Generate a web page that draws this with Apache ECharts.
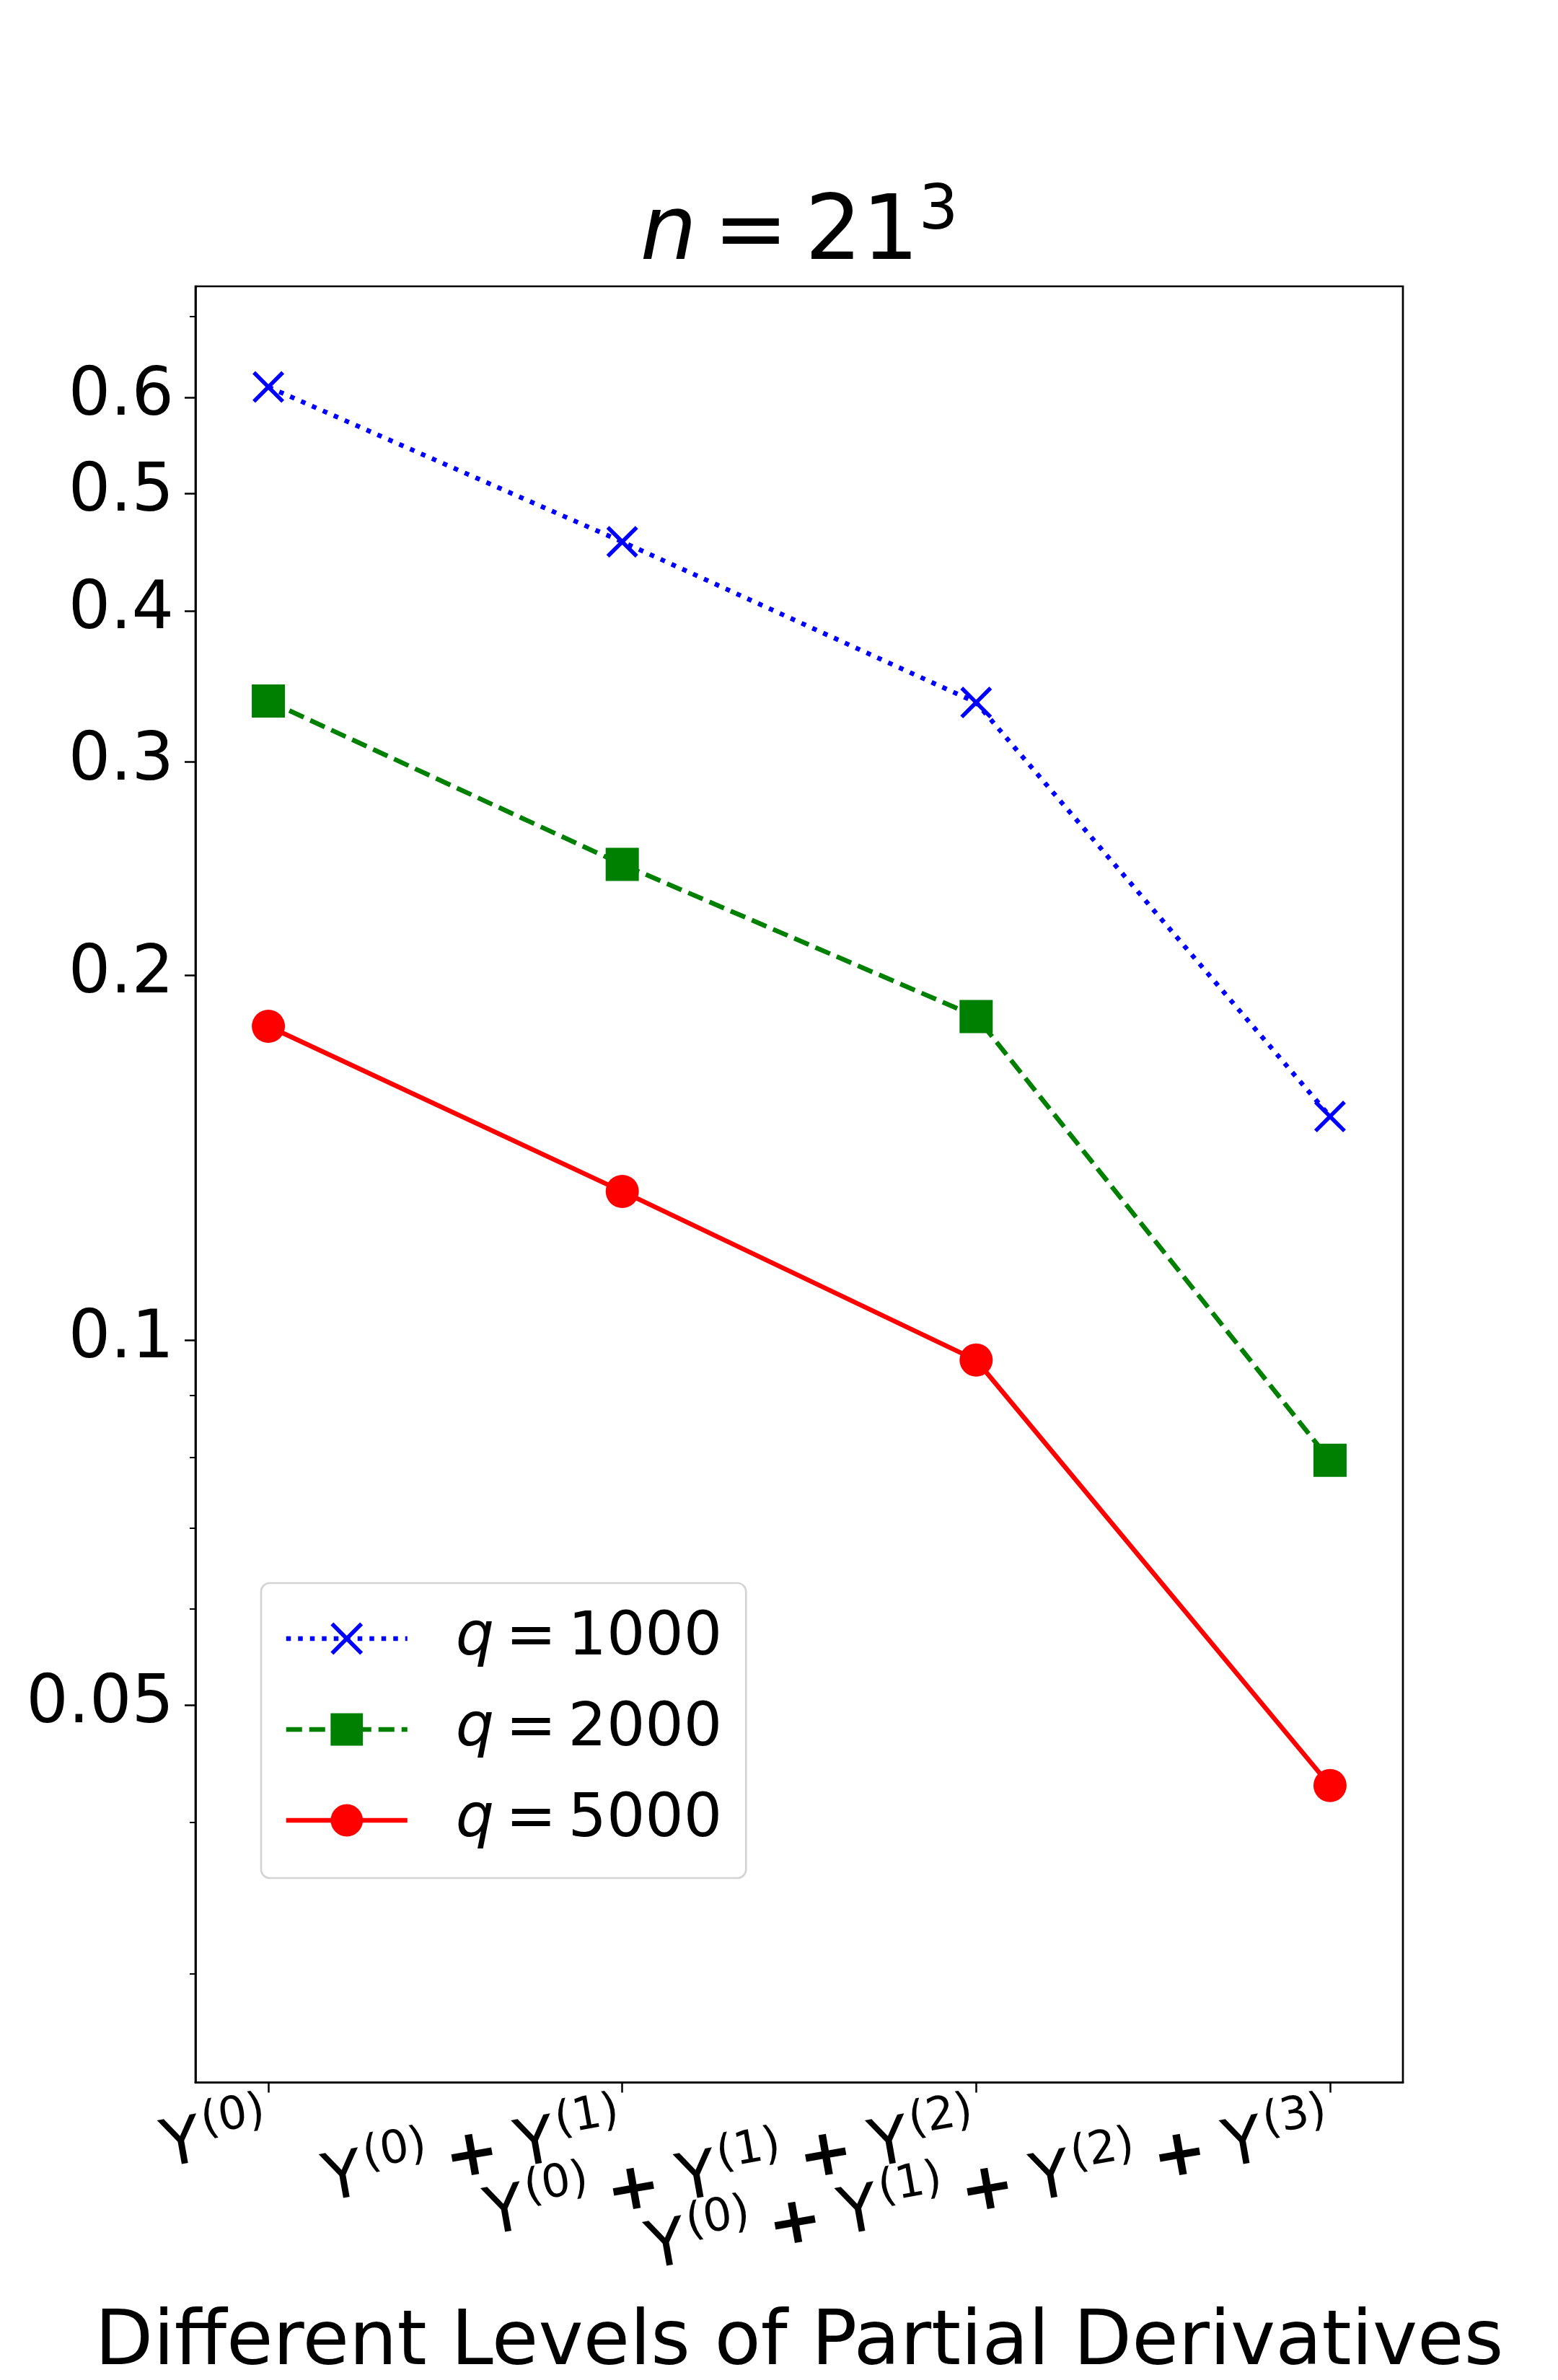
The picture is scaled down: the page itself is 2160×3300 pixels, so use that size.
<!DOCTYPE html>
<html>
<head>
<meta charset="utf-8">
<script src="https://cdn.jsdelivr.net/npm/echarts@6/dist/echarts.min.js"></script>
<style>
html,body{margin:0;padding:0;background:#fff;}
#chart{width:2160px;height:3300px;}
</style>
</head>
<body>
<div id="chart"></div>
<script>
// ---- data ----
const levels = ['Y(0)', 'Y(0) + Y(1)', 'Y(0) + Y(1) + Y(2)', 'Y(0) + Y(1) + Y(2) + Y(3)'];
const seriesNames = ['q = 1000', 'q = 2000', 'q = 5000'];
const q1000 = [0.612, 0.456, 0.336, 0.153];
const q2000 = [0.337, 0.247, 0.185, 0.0796];
const q5000 = [0.1816, 0.1327, 0.0963, 0.0429];
const yMajorTicks = [0.05, 0.1, 0.2, 0.3, 0.4, 0.5, 0.6];
const yMinorTicks = [0.03, 0.04, 0.06, 0.07, 0.08, 0.09, 0.7];
const yRange = [0.0244, 0.741];
const xRange = [-0.206, 3.206];
const titleParts = ['n', '=', '21', '3'];

// ---- helpers ----
const FONT = 'DejaVu Sans';
const lg = v => Math.log10(v);
const toPairs = arr => arr.map((v, i) => [i, lg(v)]);
function richLabel(s) {
  return s.split(/(\(\d\)| \+ )/).filter(t => t.length).map(t => {
    if (/^\(\d\)$/.test(t)) return '{s|' + t + '}';
    if (t === ' + ') return '{p|+}';
    return '{m|' + t + '}';
  }).join('');
}
function legendLabel(name) {
  const parts = name.split(' = ');
  return '{sp|}{i|' + parts[0] + '}{e|=}{d|' + parts[1] + '}';
}
const X_PATH = 'path://M0 8.84L8.84 0L50 41.16L91.16 0L100 8.84L58.84 50L100 91.16L91.16 100L50 58.84L8.84 100L0 91.16L41.16 50Z';

const labelRich = {
  m: {fontFamily: FONT, fontSize: 90, lineHeight: 120, color: '#000'},
  p: {fontFamily: FONT, fontSize: 90, fontWeight: 'bold', lineHeight: 120, padding: [0, 24, 0, 22], color: '#000'},
  s: {fontFamily: FONT, fontSize: 63, lineHeight: 66, verticalAlign: 'top', padding: [0, 0, 0, 5], color: '#000'}
};

// main x axis (line, ticks, name) + one overlay axis per tick label
const xAxes = [{
  type: 'value', min: xRange[0], max: xRange[1], position: 'bottom',
  name: 'Different Levels of Partial Derivatives',
  nameLocation: 'middle', nameGap: 311, nameMoveOverlap: false,
  nameTextStyle: {fontFamily: FONT, fontSize: 105, color: '#000', lineHeight: 105},
  axisLine: {show: true, onZero: false, lineStyle: {color: '#000', width: 2.7}},
  axisTick: {show: true, customValues: levels.map((_, i) => i), length: 14, lineStyle: {color: '#000', width: 2.5}},
  axisLabel: {show: false},
  splitLine: {show: false}
}];
levels.forEach((lab, i) => {
  xAxes.push({
    type: 'value', min: xRange[0], max: xRange[1], position: 'bottom',
    axisLine: {show: false, onZero: false},
    axisTick: {show: false},
    splitLine: {show: false},
    axisLabel: {
      show: true, customValues: [i], rotate: 10, margin: 68,
      showMinLabel: true, showMaxLabel: true,
      formatter: () => richLabel(lab),
      fontFamily: FONT, fontSize: 90, color: '#000',
      rich: labelRich
    }
  });
});

const chart = echarts.init(document.getElementById('chart'), null, {renderer: 'canvas'});
const option = {
  animation: false,
  backgroundColor: '#fff',
  title: {
    text: '{i|' + titleParts[0] + '}{e|' + titleParts[1] + '}{m|' + titleParts[2] + '}{s|' + titleParts[3] + '}',
    left: 1108, top: 252, textAlign: 'center', padding: 0,
    textStyle: {
      fontFamily: FONT, color: '#000', fontSize: 124, fontWeight: 'normal',
      rich: {
        i: {fontFamily: FONT, fontSize: 124, fontStyle: 'italic', fontWeight: 'normal', lineHeight: 150, color: '#000'},
        e: {fontFamily: FONT, fontSize: 124, fontWeight: 'normal', lineHeight: 150, padding: [0, 23, 0, 23], color: '#000'},
        m: {fontFamily: FONT, fontSize: 124, fontWeight: 'normal', lineHeight: 150, color: '#000'},
        s: {fontFamily: FONT, fontSize: 86, fontWeight: 'normal', lineHeight: 82, verticalAlign: 'top', color: '#000'}
      }
    }
  },
  grid: {left: 271, top: 397, width: 1674, height: 2490.5, show: true, borderColor: '#000', borderWidth: 2.7, backgroundColor: '#fff', containLabel: false, outerBoundsMode: 'none'},
  legend: {
    orient: 'vertical', left: 362, top: 2195,
    padding: [35, 33, 38, 31.5],
    itemWidth: 168, itemHeight: 56, itemGap: 42,
    backgroundColor: '#fff', borderColor: '#d4d4d4', borderWidth: 2.7, borderRadius: 12,
    data: seriesNames,
    formatter: legendLabel,
    lineStyle: {width: 6.5},
    textStyle: {
      fontFamily: FONT, fontSize: 84, color: '#000',
      rich: {
        sp: {width: 62, fontSize: 84},
        i: {fontFamily: FONT, fontSize: 84, fontStyle: 'italic', color: '#000'},
        e: {fontFamily: FONT, fontSize: 84, padding: [0, 16, 0, 16], color: '#000'},
        d: {fontFamily: FONT, fontSize: 84, color: '#000'}
      }
    }
  },
  xAxis: xAxes,
  yAxis: [{
    type: 'value', min: lg(yRange[0]), max: lg(yRange[1]), position: 'left',
    axisLine: {show: true, onZero: false, lineStyle: {color: '#000', width: 2.7}},
    axisTick: {show: true, customValues: yMajorTicks.map(lg), length: 15, lineStyle: {color: '#000', width: 2.5}},
    axisLabel: {
      show: true, customValues: yMajorTicks.map(lg), margin: 30,
      showMinLabel: true, showMaxLabel: true,
      formatter: v => String(parseFloat(Math.pow(10, v).toPrecision(2))),
      fontFamily: FONT, fontSize: 92, color: '#000'
    },
    splitLine: {show: false}
  }, {
    type: 'value', min: lg(yRange[0]), max: lg(yRange[1]), position: 'left',
    axisLine: {show: false, onZero: false},
    axisTick: {show: true, customValues: yMinorTicks.map(lg), length: 8, lineStyle: {color: '#000', width: 2}},
    axisLabel: {show: false},
    splitLine: {show: false}
  }],
  series: [{
    name: seriesNames[0], type: 'line', data: toPairs(q1000), xAxisIndex: 0, yAxisIndex: 0,
    symbol: X_PATH, symbolSize: 44, color: '#0000ff',
    itemStyle: {color: '#0000ff', borderWidth: 0},
    lineStyle: {color: '#0000ff', width: 6.5, type: [6.5, 10]}
  }, {
    name: seriesNames[1], type: 'line', data: toPairs(q2000), xAxisIndex: 0, yAxisIndex: 0,
    symbol: 'rect', symbolSize: 46, color: '#008000',
    itemStyle: {color: '#008000', borderWidth: 0},
    lineStyle: {color: '#008000', width: 6.5, type: [22, 10]}
  }, {
    name: seriesNames[2], type: 'line', data: toPairs(q5000), xAxisIndex: 0, yAxisIndex: 0,
    symbol: 'circle', symbolSize: 46, color: '#ff0000',
    itemStyle: {color: '#ff0000', borderWidth: 0},
    lineStyle: {color: '#ff0000', width: 6.5, type: 'solid'}
  }]
};
chart.setOption(option);
</script>
</body>
</html>
